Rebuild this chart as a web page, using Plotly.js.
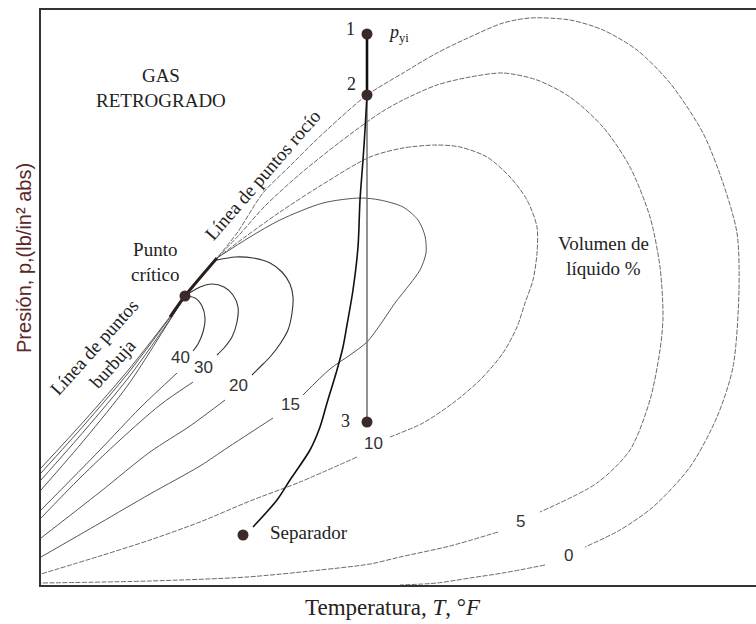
<!DOCTYPE html>
<html>
<head>
<meta charset="utf-8">
<script src="https://cdn.plot.ly/plotly-3.0.1.min.js"></script>
<style>html,body{margin:0;padding:0;background:#fff;}#chart{width:756px;height:624px;}</style>
</head>
<body>
<div id="chart"></div>
<script>
// Relative units: temperature (T) and pressure (P)
const critT = [144], critP = [289];
const bandT = [129, 144, 176], bandP = [268, 289, 327];

// 0 % liquid (dew point curve)
const c0T = [144,159,176,196,222,249,272,299,326,362,396,429,462,489,529,562,596,629,662,682,696,698,692,676,649,612,579,544];
const c0P = [289,307,327,352,392,419,442,467,490,512,532,548,562,567,565,555,535,502,452,402,352,295,218,168,118,78,55,38];
const c0lowT = [504,462,429,396,359];
const c0lowP = [20,12,7,2,0];

// 5 %
const c5T = [176,199,224,259,299,339,362,396,429,462,496,529,562,589,609,619,622,619,609,589,556,499];
const c5P = [327,351,379,411,443,472,485,500,508,512,505,488,458,418,368,318,268,235,185,135,102,73];
const c5lowT = [457,409,359,329,279,206,109,0];
const c5lowP = [53,39,28,21,15,8,4,2];

// 10 %
const c10T = [176,204,239,279,329,362,396,419,446,469,486,496,496,492,484,476,462,439,412,382,349];
const c10P = [327,348,373,399,428,437,440,438,428,408,385,358,332,305,282,258,232,205,182,162,148];
const c10lowT = [316,259,209,159,109,59,0];
const c10lowP = [128,103,84,63,45,29,11];

// 15 %
const c15T = [176,209,239,282,319,339,362,377,384,385,379,369,354,339,326,309,289,262];
const c15P = [327,348,365,382,387,385,378,365,349,332,315,301,282,260,243,230,216,190];
const c15lowT = [232,209,186,159,109,59,0];
const c15lowP = [167,152,137,119,91,62,28];

// 20 %
const c20T = [176,194,212,229,241,249,252,251,247,239,229,219,211];
const c20P = [325,328,327,322,313,301,288,272,255,241,228,218,210];
const c20lowT = [184,149,109,59,0];
const c20lowP = [185,159,133,93,47];

// 30 %
const c30T = [144,159,171,183,192,197,196,191,183,176];
const c30P = [289,298,301,298,290,278,263,248,237,230];
const c30lowT = [152,119,79,39,0];
const c30lowP = [203,180,145,107,67];

// 40 %
const c40T = [144,154,161,164,162,157,152];
const c40P = [289,287,279,267,253,241,234];
const c40lowT = [136,99,59,0];
const c40lowP = [212,177,135,75];

// bubble point fan (crit point to left edge)
const b1T = [144,131,89,44,0],  b1P = [289,271,217,165,117];
const b2T = [144,130,88,44,0],  b2P = [289,269,213,161,112];
const b3T = [144,130,88,44,0],  b3P = [289,267,208,155,105];
const b4T = [144,129,87,44,0],  b4P = [289,265,200,146,95];

// process path
const pt1T = [326], pt1P = [551];
const pt2T = [326], pt2P = [490];
const pt3T = [326], pt3P = [163];
const sepT = [202], sepP = [50];
const thickT = [326,326], thickP = [551,490];
const vertT = [326,326], vertP = [490,163];
const pathT = [326,324,322,319,317,312,306,302,296,286,279,269,249,236,212];
const pathP = [490,455,425,385,338,295,260,238,215,182,158,135,105,85,58];

const gray = '#6a6a6a';
const dashOuter = '5px,1.5px';

function ln(x, y, color, width, dash) {
  return {x: x, y: y, type: 'scatter', mode: 'lines', hoverinfo: 'skip',
          line: {color: color, width: width, dash: dash || 'solid', shape: 'spline', smoothing: 0.8}};
}
function dot(x, y) {
  return {x: x, y: y, type: 'scatter', mode: 'markers', hoverinfo: 'skip',
          marker: {color: '#3a2a28', size: 11}};
}

const traces = [
  ln(c0T, c0P, gray, 1, dashOuter), ln(c0lowT, c0lowP, gray, 1, dashOuter),
  ln(c5T, c5P, gray, 1, dashOuter), ln(c5lowT, c5lowP, gray, 1, dashOuter),
  ln(c10T, c10P, gray, 1, dashOuter), ln(c10lowT, c10lowP, gray, 1, dashOuter),
  ln(c15T, c15P, '#555', 1), ln(c15lowT, c15lowP, '#555', 1),
  ln(c20T, c20P, '#333', 1.1), ln(c20lowT, c20lowP, '#555', 1),
  ln(c30T, c30P, '#333', 1.1), ln(c30lowT, c30lowP, '#555', 1),
  ln(c40T, c40P, '#333', 1.1), ln(c40lowT, c40lowP, '#555', 1),
  ln(b1T, b1P, '#555', 1), ln(b2T, b2P, '#555', 1), ln(b3T, b3P, '#555', 1), ln(b4T, b4P, '#555', 1),
  ln(bandT, bandP, '#2a1e1c', 3),
  ln(vertT, vertP, '#777', 1.6),
  ln(pathT, pathP, '#111', 1.6),
  ln(thickT, thickP, '#111', 2.6),
  dot(critT, critP), dot(pt1T, pt1P), dot(pt2T, pt2P), dot(pt3T, pt3P), dot(sepT, sepP)
];

const serif = 'Liberation Serif, Times New Roman, serif';
const sans = 'Liberation Sans, Arial, sans-serif';
function ann(text, x, y, opts) {
  return Object.assign({text: text, x: x, y: y, xref: 'x', yref: 'y', showarrow: false,
    xanchor: 'center', yanchor: 'middle', font: {family: serif, size: 18, color: '#222'}}, opts || {});
}
const f = (size, fam, color) => ({family: fam || serif, size: size, color: color || '#222'});

const annotations = [
  ann('GAS<br>RETROGRADO', 120, 497, {font: f(19)}),
  ann('Punto<br>crítico', 114, 323, {font: f(19)}),
  ann('Volumen de<br>líquido %', 562, 329, {font: f(19)}),
  ann('Línea de puntos rocío', 221, 410, {textangle: -49, font: f(19)}),
  ann('Línea de puntos<br>burbuja', 62, 229, {textangle: -48, font: f(19)}),
  ann('1', 309, 556, {font: f(18)}), ann('2', 310, 501, {font: f(18)}), ann('3', 304, 164, {font: f(18)}),
  ann('<i>p</i><sub>yi</sub>', 345, 552, {xanchor: 'left', font: f(18)}),
  ann('Separador', 227, 53, {xanchor: 'left', font: f(19)}),
  ann('40', 139, 228, {font: f(17, sans, '#333')}),
  ann('30', 162, 218, {font: f(17, sans, '#333')}),
  ann('20', 197, 200, {font: f(17, sans, '#333')}),
  ann('15', 249, 181, {font: f(17, sans, '#333')}),
  ann('10', 332, 142, {font: f(17, sans, '#333')}),
  ann('5', 479, 64, {font: f(17, sans, '#333')}),
  ann('0', 527, 30, {font: f(17, sans, '#333')}),
  {text: 'Presión, p,(lb/in² abs)', xref: 'paper', yref: 'paper', x: -0.0238, y: 0.5687,
   textangle: -90, showarrow: false, xanchor: 'center', yanchor: 'middle',
   font: f(20, sans, '#5a2626')},
  {text: 'Temperatura, <i>T</i>, °<i>F</i>', xref: 'paper', yref: 'paper', x: 0.492, y: -0.0383,
   showarrow: false, xanchor: 'center', yanchor: 'middle', font: f(23)}
];

const layout = {
  width: 756, height: 624,
  margin: {l: 41, r: 0, t: 10, b: 39},
  paper_bgcolor: '#fff', plot_bgcolor: '#fff',
  showlegend: false,
  hovermode: false,
  xaxis: {range: [0, 715], showgrid: false, zeroline: false, showticklabels: false, ticks: '',
          showline: true, linecolor: '#333', linewidth: 2, mirror: true, fixedrange: true},
  yaxis: {range: [0, 575], showgrid: false, zeroline: false, showticklabels: false, ticks: '',
          showline: true, linecolor: '#333', linewidth: 2, mirror: false, fixedrange: true},
  annotations: annotations
};

Plotly.newPlot('chart', traces, layout, {staticPlot: true, displayModeBar: false});
</script>
</body>
</html>
